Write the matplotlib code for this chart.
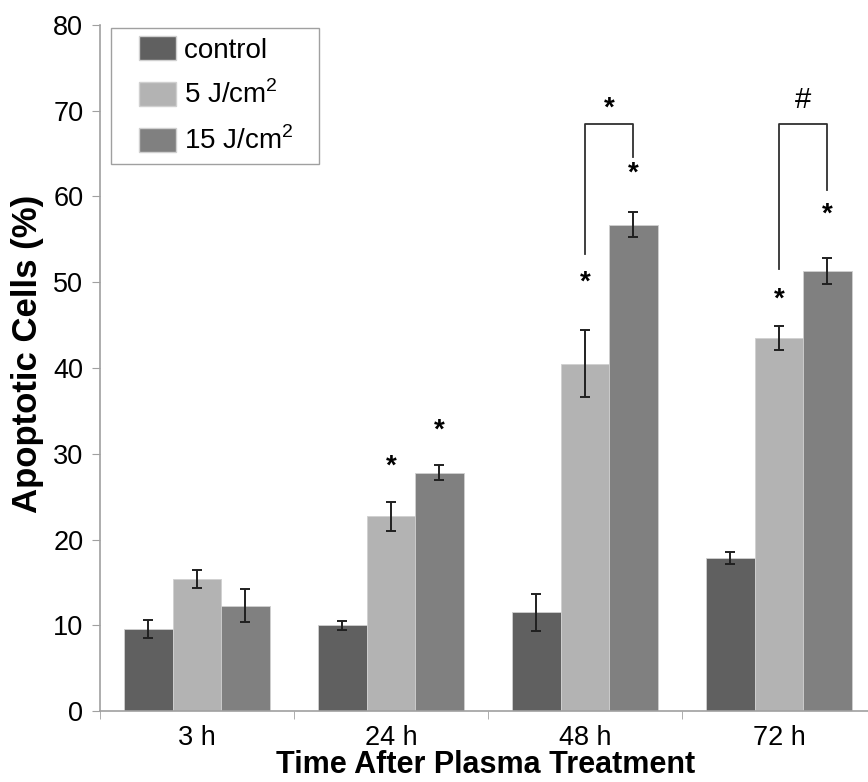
import numpy as np
import matplotlib
matplotlib.use("Agg")
import matplotlib.pyplot as plt
from matplotlib.patches import Patch, Rectangle
from matplotlib.legend_handler import HandlerPatch

plt.rcParams['font.family'] = ['Liberation Sans', 'DejaVu Sans']
plt.rcParams['mathtext.fontset'] = 'custom'
plt.rcParams['mathtext.rm'] = 'Liberation Sans'

# data
times = ['3 h', '24 h', '48 h', '72 h']
series = ['control', '5 J/cm$^{\\mathrm{2}}$', '15 J/cm$^{\\mathrm{2}}$']
control = [9.6, 10.0, 11.5, 17.8]
control_err = [1.05, 0.5, 2.15, 0.7]
low_dose = [15.4, 22.7, 40.5, 43.5]
low_dose_err = [1.1, 1.7, 3.9, 1.4]
high_dose = [12.3, 27.8, 56.7, 51.3]
high_dose_err = [1.9, 0.9, 1.45, 1.55]
colors = ['#606060', '#b3b3b3', '#808080']

# significance marks: (group, bar index, y)
stars = [(1, 1, 28.5), (1, 2, 32.7), (2, 1, 49.9), (2, 2, 62.7),
         (3, 1, 48.0), (3, 2, 57.9)]
# brackets: group, left bottom, right bottom, top, label
brackets = [(2, 53.3, 64.6, 68.5, '*'), (3, 51.5, 60.7, 68.5, '#')]

fig = plt.figure(figsize=(8.68, 7.82), dpi=100)
ax = fig.add_axes([100/868, 71/782, 768/868, 686/782])

x = np.arange(len(times))
w = 0.25
vals = [control, low_dose, high_dose]
errs = [control_err, low_dose_err, high_dose_err]
for i in range(3):
    ax.bar(x + (i - 1) * w, vals[i], w, color=colors[i], edgecolor='#d0d0d0',
           linewidth=0.6, label=series[i], zorder=2)
    ax.errorbar(x + (i - 1) * w, vals[i], yerr=errs[i], fmt='none',
                ecolor='#202020', elinewidth=1.4, capsize=3.5, capthick=1.4, zorder=3)

for g, b, y in stars:
    ax.text(g + (b - 1) * w, y, '*', ha='center', va='center', fontsize=20,
            fontweight='bold', zorder=4)

for g, yl, yr, yt, lab in brackets:
    xl, xr = g, g + w
    ax.plot([xl, xl, xr, xr], [yl, yt, yt, yr], color='#303030', lw=1.3, zorder=4)
    if lab == '*':
        ax.text((xl + xr) / 2, yt + 1.7, lab, ha='center', va='center',
                fontsize=20, fontweight='bold')
    else:
        ax.text((xl + xr) / 2, yt + 2.8, lab, ha='center', va='center',
                fontsize=21)

ax.set_xlim(-0.5, 3.459)
ax.set_ylim(0, 80)
ax.set_yticks(np.arange(0, 81, 10))
ax.set_xticks(x)
ax.set_xticklabels(times)
ax.set_xticks(np.arange(-0.5, 3.5, 1), minor=True)
ax.tick_params(axis='x', which='major', length=0, labelsize=19.5, pad=10)
ax.tick_params(axis='x', which='minor', length=6, color='#a0a0a0', direction='out')
ax.tick_params(axis='y', labelsize=19.5, length=6, color='#a0a0a0', pad=6)
for s in ['top', 'right']:
    ax.spines[s].set_visible(False)
for s in ['left', 'bottom']:
    ax.spines[s].set_color('#a0a0a0')
    ax.spines[s].set_linewidth(1.2)

# axis titles placed where the reference has them
fig.text(28/868, 1 - 354/782, 'Apoptotic Cells (%)', rotation=90, ha='center',
         va='center', fontsize=25, fontweight='bold')
fig.text(486/868, 2/782, 'Time After Plasma Treatment', ha='center',
         va='bottom', fontsize=22, fontweight='bold')


def shifted_patch(legend, orig_handle, xdescent, ydescent, width, height, fontsize):
    # legend swatch sits to the right inside a wider handle box
    return Rectangle((-xdescent + 14.4, -ydescent), 26.6, height)


handles = [Patch(facecolor=c, edgecolor='#d0d0d0') for c in colors]
labels = [s + '   ' for s in series]
leg = ax.legend(handles, labels, loc='upper left', bbox_to_anchor=(0.014, 0.996),
                borderaxespad=0, fontsize=20, fancybox=False, framealpha=1,
                edgecolor='#a0a0a0', handlelength=2.05, handleheight=0.97,
                labelspacing=0.62, handletextpad=0.3, borderpad=0.3,
                handler_map={Patch: HandlerPatch(patch_func=shifted_patch)})
leg.get_frame().set_linewidth(1.0)

fig.savefig('out.png', dpi=100)
